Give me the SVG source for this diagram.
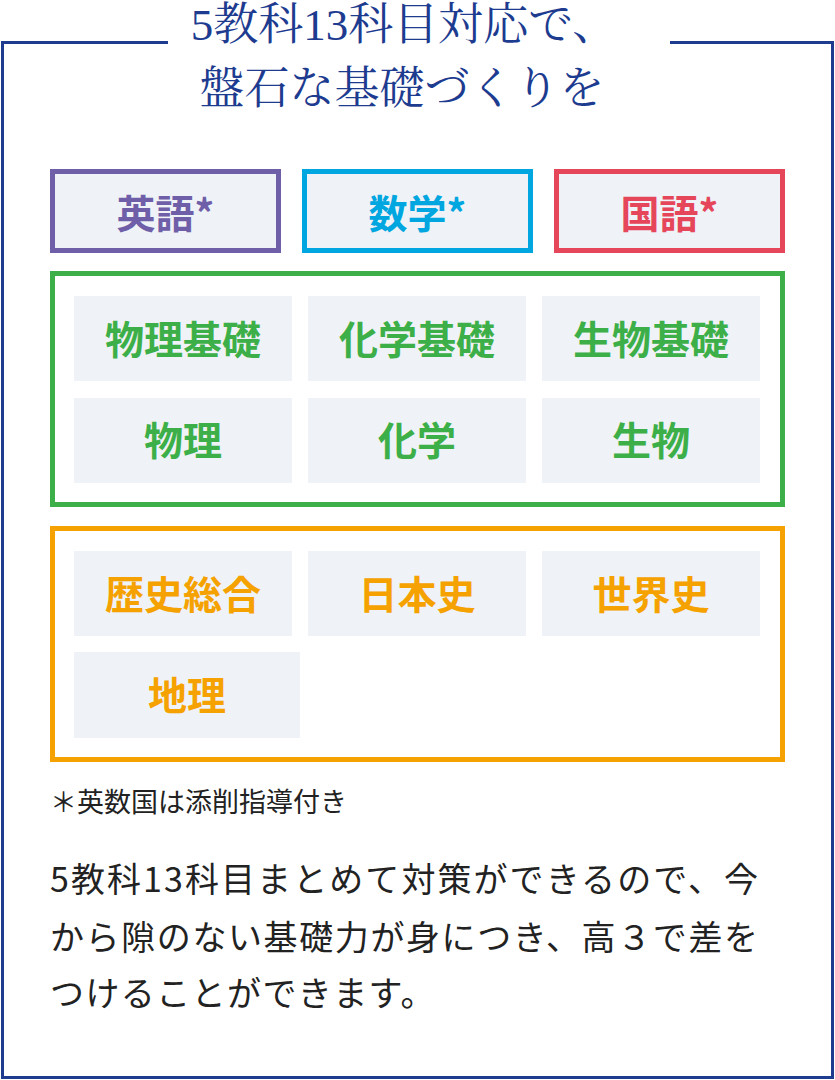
<svg xmlns="http://www.w3.org/2000/svg" width="835" height="1080" viewBox="0 0 835 1080">
<style>
.t{font-family:"Liberation Serif","Noto Serif CJK JP","Noto Sans CJK JP",serif;font-size:45px;fill:#1d3b8f;text-anchor:middle}
.b{font-family:"Noto Sans CJK JP",sans-serif;font-weight:bold;font-size:39px;text-anchor:middle}
.cell{fill:#eff2f7}
.p{font-family:"Noto Sans CJK JP",sans-serif;fill:#222;font-size:34px}
</style>
<rect width="835" height="1080" fill="#fff"/>
<path d="M168 42.5H2.5V1077.5H832.5V42.5H670" fill="none" stroke="#1d3b8f" stroke-width="3"/>
<text class="t" x="404" y="40">5教科13科目対応で、</text>
<text class="t" x="402" y="104">盤石な基礎づくりを</text>
<g id="eigo"><rect x="52.5" y="171.5" width="226" height="79" class="cell" stroke="#6f5fa8" stroke-width="5"/><text class="b" x="165.5" y="228" fill="#6f5fa8">英語*</text></g>
<g id="sugaku"><rect x="304.5" y="171.5" width="226" height="79" class="cell" stroke="#00a6e0" stroke-width="5"/><text class="b" x="417.5" y="228" fill="#00a6e0">数学*</text></g>
<g id="kokugo"><rect x="556.5" y="171.5" width="226" height="79" class="cell" stroke="#e6465a" stroke-width="5"/><text class="b" x="669.5" y="228" fill="#e6465a">国語*</text></g>
<g id="rika" fill="#3daf48">
<rect x="52.5" y="273.5" width="730" height="231" fill="none" stroke="#3daf48" stroke-width="5"/>
<rect class="cell" x="74" y="296" width="218" height="85"/><rect class="cell" x="308" y="296" width="218" height="85"/><rect class="cell" x="542" y="296" width="218" height="85"/>
<rect class="cell" x="74" y="398" width="218" height="85"/><rect class="cell" x="308" y="398" width="218" height="85"/><rect class="cell" x="542" y="398" width="218" height="85"/>
<text class="b" x="183" y="354">物理基礎</text><text class="b" x="417" y="354">化学基礎</text><text class="b" x="651" y="354">生物基礎</text>
<text class="b" x="183" y="455">物理</text><text class="b" x="417" y="455">化学</text><text class="b" x="651" y="455">生物</text>
</g>
<g id="shakai" fill="#f5a200">
<rect x="52.5" y="528.5" width="730" height="231" fill="none" stroke="#f5a200" stroke-width="5"/>
<rect class="cell" x="74" y="551" width="218" height="85"/><rect class="cell" x="308" y="551" width="218" height="85"/><rect class="cell" x="542" y="551" width="218" height="85"/>
<rect class="cell" x="74" y="652" width="226" height="86"/>
<text class="b" x="183" y="609">歴史総合</text><text class="b" x="417" y="609">日本史</text><text class="b" x="651" y="609">世界史</text>
<text class="b" x="187" y="710">地理</text>
</g>
<text x="50" y="812" font-family="Noto Sans CJK JP,sans-serif" font-size="27" fill="#222">＊英数国は添削指導付き</text>
<text class="p" x="50" y="892" textLength="708" lengthAdjust="spacing">5教科13科目まとめて対策ができるので、今</text>
<text class="p" x="50" y="950" textLength="708" lengthAdjust="spacing">から隙のない基礎力が身につき、高３で差を</text>
<text class="p" x="50" y="1006" letter-spacing="1.4">つけることができます。</text>
</svg>
